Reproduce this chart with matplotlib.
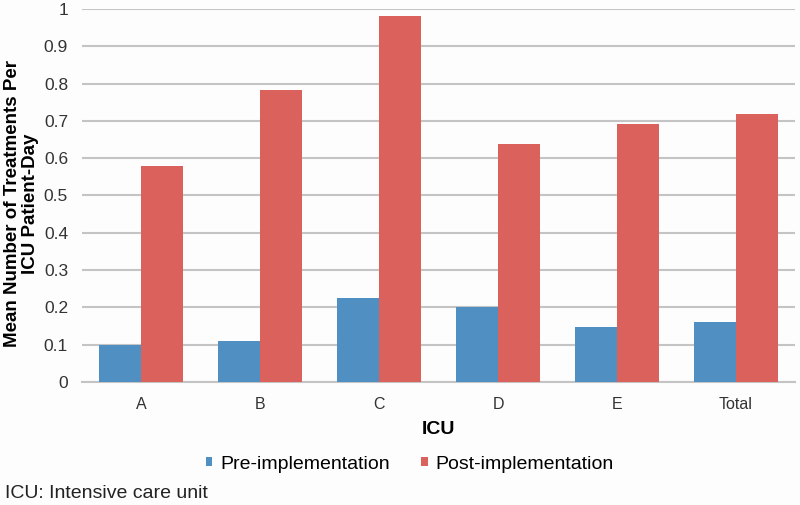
import matplotlib
matplotlib.use("Agg")
import matplotlib.pyplot as plt
import numpy as np

categories = ["A", "B", "C", "D", "E", "Total"]
pre_values = [0.10, 0.109, 0.226, 0.200, 0.147, 0.161]
post_values = [0.580, 0.782, 0.980, 0.637, 0.692, 0.718]
series_names = ["Pre-implementation", "Post-implementation"]
yticks = [0, 0.1, 0.2, 0.3, 0.4, 0.5, 0.6, 0.7, 0.8, 0.9, 1]
ytick_labels = ["0", "0.1", "0.2", "0.3", "0.4", "0.5", "0.6", "0.7", "0.8", "0.9", "1"]

plt.rcParams['font.family'] = ['Liberation Sans', 'DejaVu Sans']

fig = plt.figure(figsize=(8, 5.05), dpi=100)
fig.patch.set_facecolor("#fdfdfd")
ax = fig.add_axes([0.1025, 0.2436, 0.8915, 0.7386])
ax.set_facecolor("#fdfdfd")

x = np.arange(len(categories))
w = 0.353
blue = "#4f8fc1"
red = "#db625c"
b1 = ax.bar(x - w / 2, pre_values, w, color=blue, label=series_names[0], zorder=3)
b2 = ax.bar(x + w / 2, post_values, w, color=red, label=series_names[1], zorder=3)

ax.set_xlim(-0.5, len(categories) - 0.5)
ax.set_ylim(0, 1)
ax.set_yticks(yticks)
ax.set_yticklabels(ytick_labels, fontsize=12.5, color="#333333")
ax.set_xticks(x)
ax.set_xticklabels(categories, fontsize=11.5, color="#333333")
ax.tick_params(axis='both', length=0)
ax.tick_params(axis='y', pad=10)
ax.tick_params(axis='x', pad=11)
ax.grid(axis='y', color="#c4c4c4", linewidth=1.5, zorder=0)
for s in ["top", "right", "left"]:
    ax.spines[s].set_visible(False)
ax.spines["bottom"].set_color("#c4c4c4")
ax.spines["bottom"].set_linewidth(1.5)

ax.set_xlabel("ICU", fontsize=14, fontweight="bold", labelpad=6)
fig.text(0.027, 0.597, "Mean Number of Treatments Per\nICU Patient-Day", rotation=90,
         ha="center", va="center", fontsize=13.5, fontweight="bold", linespacing=1.1)

leg = fig.legend(handles=[b1, b2], labels=series_names, loc="center", bbox_to_anchor=(0.512, 0.081),
                 ncol=2, frameon=False, fontsize=14, handlelength=0.35, handleheight=0.35,
                 handletextpad=0.4, columnspacing=1.6)
fig.text(0.006, 0.022, "ICU: Intensive care unit", fontsize=14, ha="left", va="center", color="#222222")

fig.savefig("out.png", dpi=100, facecolor=fig.get_facecolor())
